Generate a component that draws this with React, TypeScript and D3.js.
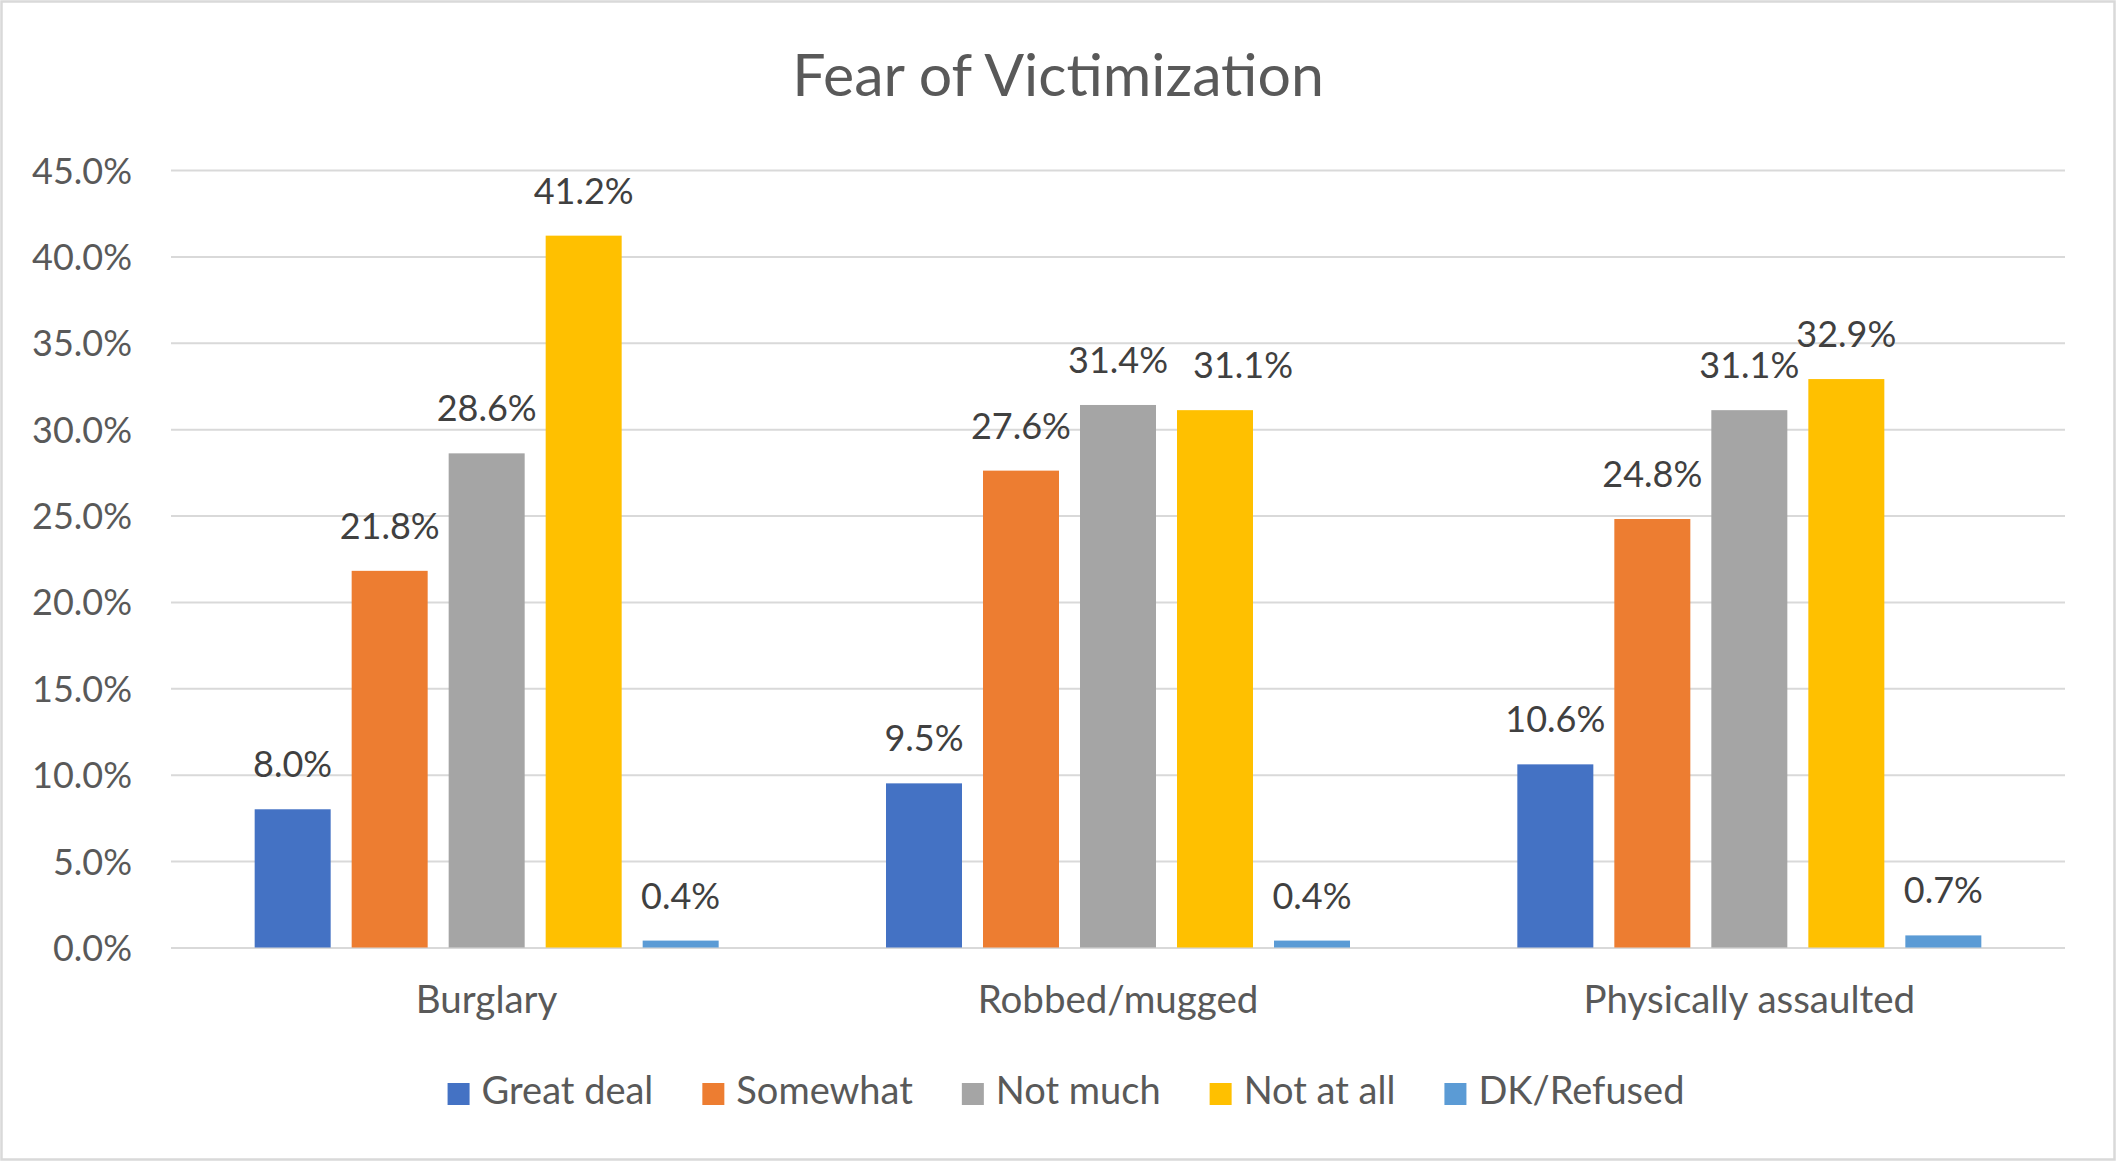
import React, { useRef, useEffect } from 'react';
import * as d3 from 'd3';

const categories = ['Burglary', 'Robbed/mugged', 'Physically assaulted'];
const seriesNames = ['Great deal', 'Somewhat', 'Not much', 'Not at all', 'DK/Refused'];
const seriesColors = ['#4472C4', '#ED7D31', '#A5A5A5', '#FFC000', '#5B9BD5'];
// values in percent, one array per series (order follows categories)
const greatDeal = [8.0, 9.5, 10.6];
const somewhat = [21.8, 27.6, 24.8];
const notMuch = [28.6, 31.4, 31.1];
const notAtAll = [41.2, 31.1, 32.9];
const dkRefused = [0.4, 0.4, 0.7];
const yTicks = [0, 5, 10, 15, 20, 25, 30, 35, 40, 45];

const FONT = 'Lato, "Open Sans", sans-serif';

const App: React.FC = () => {
  const svgRef = useRef<SVGSVGElement>(null);
  const width = 2116;
  const height = 1161;

  useEffect(() => {
    if (!svgRef.current) return;
    const svg = d3.select(svgRef.current);
    svg.selectAll('*').remove();

    const left = 171;
    const right = 2065;
    const top = 170;
    const bottom = 947.5;

    const values = [greatDeal, somewhat, notMuch, notAtAll, dkRefused];
    const rows = categories.map((c, ci) => ({
      cat: c,
      vals: seriesNames.map((s, si) => ({ series: s, idx: si, value: values[si][ci] }))
    }));

    // outer frame
    svg.append('rect')
      .attr('x', 1.5)
      .attr('y', 1.5)
      .attr('width', width - 3)
      .attr('height', height - 3)
      .attr('fill', '#fff')
      .attr('stroke', '#D9D9D9')
      .attr('stroke-width', 2.5);

    const x0 = d3.scaleBand<string>().domain(categories).range([left, right]);
    const groupW = 464;
    const x1 = d3.scaleBand<string>()
      .domain(seriesNames)
      .range([0, groupW])
      .paddingInner(0.2165)
      .paddingOuter(0);
    const y = d3.scaleLinear().domain([0, 45]).range([bottom, top]);

    // y axis with gridlines
    const yAxis = svg.append('g')
      .attr('transform', `translate(${left},0)`)
      .call(d3.axisLeft(y)
        .tickValues(yTicks)
        .tickSize(-(right - left))
        .tickPadding(left - 132)
        .tickFormat(d => `${(+d).toFixed(1)}%`));
    yAxis.select('.domain').remove();
    yAxis.selectAll('line')
      .attr('stroke', '#D9D9D9')
      .attr('stroke-width', 2);
    yAxis.selectAll('text')
      .attr('dy', '13px')
      .attr('font-family', FONT)
      .attr('font-size', '36px')
      .attr('fill', '#595959');

    // bars
    const groups = svg.append('g')
      .selectAll('g')
      .data(rows)
      .enter()
      .append('g')
      .attr('transform', d => `translate(${(x0(d.cat) as number) + x0.bandwidth() / 2 - groupW / 2},0)`);

    groups.selectAll('rect')
      .data(d => d.vals)
      .enter()
      .append('rect')
      .attr('x', d => x1(d.series) as number)
      .attr('y', d => y(d.value))
      .attr('width', x1.bandwidth())
      .attr('height', d => bottom - y(d.value))
      .attr('fill', d => seriesColors[d.idx]);

    groups.each(function () {
      const labels = d3.select(this).selectAll('text.lbl')
        .data((d: any) => d.vals)
        .enter()
        .append('text')
        .attr('class', 'lbl')
        .attr('x', (d: any) => (x1(d.series) as number) + x1.bandwidth() / 2)
        .attr('y', (d: any) => y(d.value) - 32)
        .attr('text-anchor', 'middle')
        .attr('font-family', FONT)
        .attr('font-size', '36px')
        .attr('fill', '#404040')
        .text((d: any) => `${d.value.toFixed(1)}%`);

      // nudge overlapping labels to the right, like Excel does
      let prev: { x: number; y: number; w: number } | null = null;
      labels.each(function () {
        const t = d3.select(this);
        const w = (this as SVGTextElement).getComputedTextLength();
        let lx = +t.attr('x');
        const ly = +t.attr('y');
        if (prev && Math.abs(prev.y - ly) < 26 && lx - w / 2 < prev.x + prev.w / 2) {
          lx = prev.x + prev.w / 2 + 25 + w / 2;
          t.attr('x', lx);
        }
        prev = { x: lx, y: ly, w };
      });
    });

    // category labels
    svg.append('g')
      .selectAll('text')
      .data(categories)
      .enter()
      .append('text')
      .attr('x', d => (x0(d) as number) + x0.bandwidth() / 2)
      .attr('y', 1013)
      .attr('text-anchor', 'middle')
      .attr('font-family', FONT)
      .attr('font-size', '38.5px')
      .attr('fill', '#595959')
      .text(d => d);

    // title
    svg.append('text')
      .attr('x', width / 2)
      .attr('y', 96)
      .attr('text-anchor', 'middle')
      .attr('font-family', FONT)
      .attr('font-size', '59px')
      .attr('fill', '#595959')
      .text('Fear of Victimization');

    // legend
    const legend = svg.append('g');
    const items = seriesNames.map((name, i) => {
      const g = legend.append('g');
      g.append('rect')
        .attr('x', 0)
        .attr('y', 1083)
        .attr('width', 22)
        .attr('height', 22)
        .attr('fill', seriesColors[i]);
      const t = g.append('text')
        .attr('x', 34)
        .attr('y', 1104)
        .attr('font-family', FONT)
        .attr('font-size', '38px')
        .attr('fill', '#595959')
        .text(name);
      const tw = (t.node() as SVGTextElement).getComputedTextLength();
      return { g, w: 34 + tw };
    });
    const gap = 49;
    const total = d3.sum(items, d => d.w) + gap * (items.length - 1);
    let cx = 1066 - total / 2;
    items.forEach(it => {
      it.g.attr('transform', `translate(${cx},0)`);
      cx += it.w + gap;
    });
  }, []);

  return (
    <svg
      ref={svgRef}
      width={width}
      height={height}
      style={{ position: 'absolute', left: 0, top: 0, background: '#fff' }}
    />
  );
};

export default App;
